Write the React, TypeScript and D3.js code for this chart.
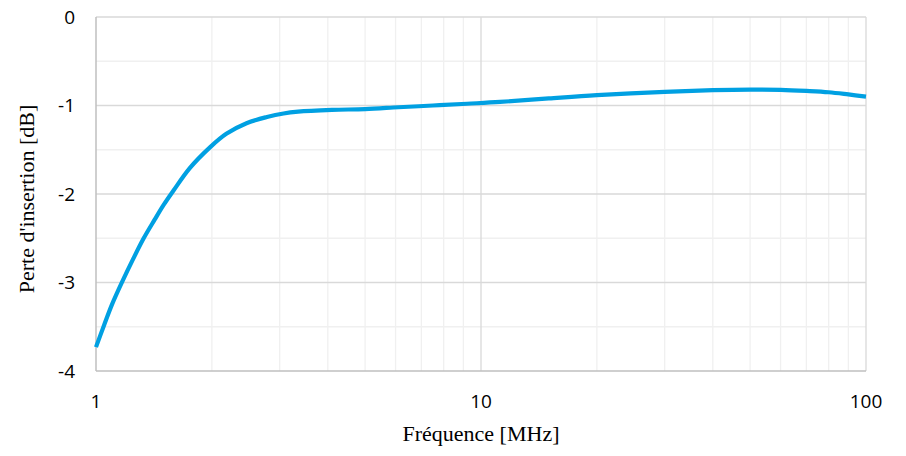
import React, { useEffect, useRef } from 'react';
import * as d3 from 'd3';

// frequency in MHz, insertion loss in dB
const freqs = [1, 1.05, 1.1, 1.17, 1.25, 1.33, 1.42, 1.5, 1.59, 1.75, 1.98, 2.18, 2.46, 2.78, 3.07, 3.35, 4.1, 5.0, 6.1, 7.5, 9.2, 11.2, 15, 20, 30, 40, 50, 60, 70, 80, 90, 100];
const lossDb = [-3.73, -3.48, -3.25, -2.99, -2.73, -2.5, -2.29, -2.12, -1.96, -1.71, -1.47, -1.32, -1.2, -1.13, -1.09, -1.07, -1.05, -1.04, -1.02, -1.0, -0.98, -0.96, -0.92, -0.883, -0.846, -0.827, -0.82, -0.823, -0.835, -0.85, -0.875, -0.9];

const xTicks = [1, 10, 100];
const yTicks = [0, -1, -2, -3, -4];
const xMinor = [2, 3, 4, 5, 6, 7, 8, 9, 20, 30, 40, 50, 60, 70, 80, 90];
const yMinor = [-0.5, -1.5, -2.5, -3.5];

const App: React.FC = () => {
  const ref = useRef<SVGSVGElement | null>(null);

  useEffect(() => {
    if (!ref.current) return;
    const svg = d3.select(ref.current);
    svg.selectAll('*').remove();

    const W = 906, H = 456;
    const margin = { top: 17, right: 40, bottom: 85, left: 96 };
    const width = W - margin.left - margin.right;
    const height = H - margin.top - margin.bottom;

    const x = d3.scaleLog().domain([1, 100]).range([0, width]);
    const y = d3.scaleLinear().domain([-4, 0]).range([height, 0]);

    const g = svg.append('g').attr('transform', `translate(${margin.left},${margin.top})`);

    // minor grid
    g.selectAll('.xminor').data(xMinor).enter().append('line')
      .attr('x1', d => x(d)).attr('x2', d => x(d))
      .attr('y1', 0).attr('y2', height)
      .attr('stroke', '#f0f0f0').attr('stroke-width', 1.3);
    g.selectAll('.yminor').data(yMinor).enter().append('line')
      .attr('x1', 0).attr('x2', width)
      .attr('y1', d => y(d)).attr('y2', d => y(d))
      .attr('stroke', '#f0f0f0').attr('stroke-width', 1.3);

    // major grid
    g.selectAll('.xmajor').data(xTicks.slice(1)).enter().append('line')
      .attr('x1', d => x(d)).attr('x2', d => x(d))
      .attr('y1', 0).attr('y2', height)
      .attr('stroke', '#d9d9d9').attr('stroke-width', 1.3);
    g.selectAll('.ymajor').data(yTicks.slice(0, -1)).enter().append('line')
      .attr('x1', 0).attr('x2', width)
      .attr('y1', d => y(d)).attr('y2', d => y(d))
      .attr('stroke', '#d9d9d9').attr('stroke-width', 1.3);

    // axis lines
    g.append('line').attr('x1', 0).attr('x2', 0).attr('y1', 0).attr('y2', height)
      .attr('stroke', '#bfbfbf').attr('stroke-width', 1.5);
    g.append('line').attr('x1', 0).attr('x2', width).attr('y1', height).attr('y2', height)
      .attr('stroke', '#bfbfbf').attr('stroke-width', 1.5);

    // tick labels
    const tickFont = "'Open Sans', sans-serif";
    g.selectAll('.xlab').data(xTicks).enter().append('text')
      .attr('x', d => x(d)).attr('y', height + 37)
      .attr('text-anchor', 'middle')
      .attr('font-family', tickFont).attr('font-size', 19).attr('font-weight', 500).attr('fill', '#000')
      .text(d => String(d));
    g.selectAll('.ylab').data(yTicks).enter().append('text')
      .attr('x', -21).attr('y', d => y(d)).attr('dy', '0.35em')
      .attr('text-anchor', 'end')
      .attr('font-family', tickFont).attr('font-size', 19).attr('font-weight', 500).attr('fill', '#000')
      .text(d => String(d));

    // curve
    const data = freqs.map((f, i) => ({ f, v: lossDb[i] }));
    const line = d3.line<{ f: number; v: number }>()
      .x(d => x(d.f)).y(d => y(d.v))
      .curve(d3.curveCatmullRom.alpha(0.5));
    g.append('path').datum(data)
      .attr('d', line)
      .attr('fill', 'none')
      .attr('stroke', '#00a0e2')
      .attr('stroke-width', 4.2)
      .attr('stroke-linejoin', 'round');

    // axis titles
    const titleFont = "'Liberation Serif', 'DejaVu Serif', serif";
    svg.append('text')
      .attr('x', margin.left + width / 2).attr('y', 441)
      .attr('text-anchor', 'middle')
      .attr('font-family', titleFont).attr('font-size', 22).attr('fill', '#000')
      .text('Fréquence [MHz]');
    svg.append('text')
      .attr('transform', `translate(34,${margin.top + height / 2 + 5}) rotate(-90)`)
      .attr('text-anchor', 'middle')
      .attr('font-family', titleFont).attr('font-size', 22).attr('fill', '#000')
      .text("Perte d'insertion [dB]");
  }, []);

  return (
    <svg ref={ref} width={906} height={456}
      style={{ position: 'absolute', left: 0, top: 0, background: '#fff' }} />
  );
};

export default App;
